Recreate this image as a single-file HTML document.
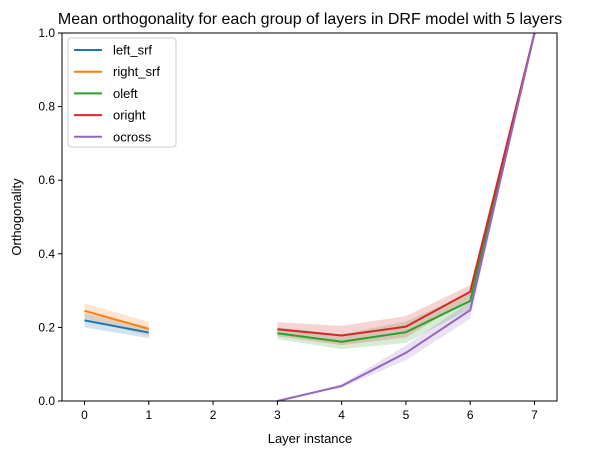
<!DOCTYPE html>
<html><head><meta charset="utf-8"><style>
body{margin:0;background:#fff;font-family:"Liberation Sans","DejaVu Sans",sans-serif}
</style></head><body>
<svg id="chart" width="616" height="455" xmlns="http://www.w3.org/2000/svg" font-family="Liberation Sans, DejaVu Sans, sans-serif">
<text x="310" y="24" text-anchor="middle" font-size="16">Mean orthogonality for each group of layers in DRF model with 5 layers</text>
<g id="plot"></g>
<text x="310" y="443" text-anchor="middle" font-size="13">Layer instance</text>
<text transform="translate(21,217) rotate(-90)" text-anchor="middle" font-size="13">Orthogonality</text>
</svg>
<script>
const xTicks=[0,1,2,3,4,5,6,7];
const yTicks=[0,0.2,0.4,0.6,0.8,1.0];
const yTickLabels=["0.0","0.2","0.4","0.6","0.8","1.0"];
const seriesNames=["left_srf","right_srf","oleft","oright","ocross"];
const seriesColors=["#1f77b4","#ff7f0e","#2ca02c","#d62728","#9467bd"];
const leftX=[0,1];
const leftMean=[0.219,0.186];
const leftLo=[0.200,0.171];
const leftHi=[0.238,0.201];
const rightX=[0,1];
const rightMean=[0.245,0.196];
const rightLo=[0.225,0.177];
const rightHi=[0.265,0.215];
const oleftX=[3,4,5,6,7];
const oleftMean=[0.184,0.161,0.187,0.272,1.0];
const oleftLo=[0.168,0.141,0.158,0.250,1.0];
const oleftHi=[0.200,0.181,0.216,0.294,1.0];
const orightX=[3,4,5,6,7];
const orightMean=[0.195,0.178,0.202,0.297,1.0];
const orightLo=[0.176,0.152,0.173,0.279,1.0];
const orightHi=[0.214,0.204,0.231,0.315,1.0];
const ocrossX=[3,4,5,6,7];
const ocrossMean=[0.0,0.041,0.131,0.247,1.0];
const ocrossLo=[0.0,0.036,0.111,0.223,1.0];
const ocrossHi=[0.0,0.046,0.151,0.271,1.0];

const L=62,R=557,T=33,B=401;
const xs=v=>L+(v+0.35)/7.7*(R-L);
const ys=v=>B-v*(B-T);
const NS="http://www.w3.org/2000/svg";
const g=document.getElementById('plot');
function mk(tag,attrs){const e=document.createElementNS(NS,tag);for(const k in attrs)e.setAttribute(k,attrs[k]);g.appendChild(e);return e;}
const all=[[leftX,leftMean,leftLo,leftHi],[rightX,rightMean,rightLo,rightHi],[oleftX,oleftMean,oleftLo,oleftHi],[orightX,orightMean,orightLo,orightHi],[ocrossX,ocrossMean,ocrossLo,ocrossHi]];
all.forEach((s,i)=>{
  const [X,M,Lo,Hi]=s;
  let pts=X.map((x,j)=>xs(x)+','+ys(Hi[j]));
  for(let j=X.length-1;j>=0;j--)pts.push(xs(X[j])+','+ys(Lo[j]));
  const b=mk('polygon',{points:pts.join(' '),fill:seriesColors[i],'fill-opacity':0.2});
  
  
});
all.forEach((s,i)=>{
  const [X,M]=s;
  const l=mk('polyline',{points:X.map((x,j)=>xs(x)+','+ys(M[j])).join(' '),fill:'none',stroke:seriesColors[i],'stroke-width':2});
  
  
});
const fr=mk('rect',{x:L,y:T,width:R-L,height:B-T,fill:'none',stroke:'#000','stroke-width':1});


xTicks.forEach(v=>{
  const t=mk('line',{x1:xs(v),x2:xs(v),y1:B,y2:B+4,stroke:'#000','stroke-width':1});
  
  
  const tx=mk('text',{x:xs(v),y:B+18,'text-anchor':'middle','font-size':12});
  tx.textContent=v;
  
  
});
yTicks.forEach((v,i)=>{
  const t=mk('line',{x1:L-4,x2:L,y1:ys(v),y2:ys(v),stroke:'#000','stroke-width':1});
  
  
  const tx=mk('text',{x:L-7,y:ys(v)+4,'text-anchor':'end','font-size':12});
  tx.textContent=yTickLabels[i];
  
  
});
const lg=mk('rect',{x:68,y:38,width:108,height:109,rx:3,fill:'#fff','fill-opacity':0.8,stroke:'#ccc'});


seriesNames.forEach((n,i)=>{
  const y=50+i*21.7;
  const l=mk('line',{x1:74,x2:102,y1:y,y2:y,stroke:seriesColors[i],'stroke-width':2});
  
  
  const t=mk('text',{x:113,y:y+4.5,'font-size':13});
  t.textContent=n;
  
  
});
</script>
</body></html>
